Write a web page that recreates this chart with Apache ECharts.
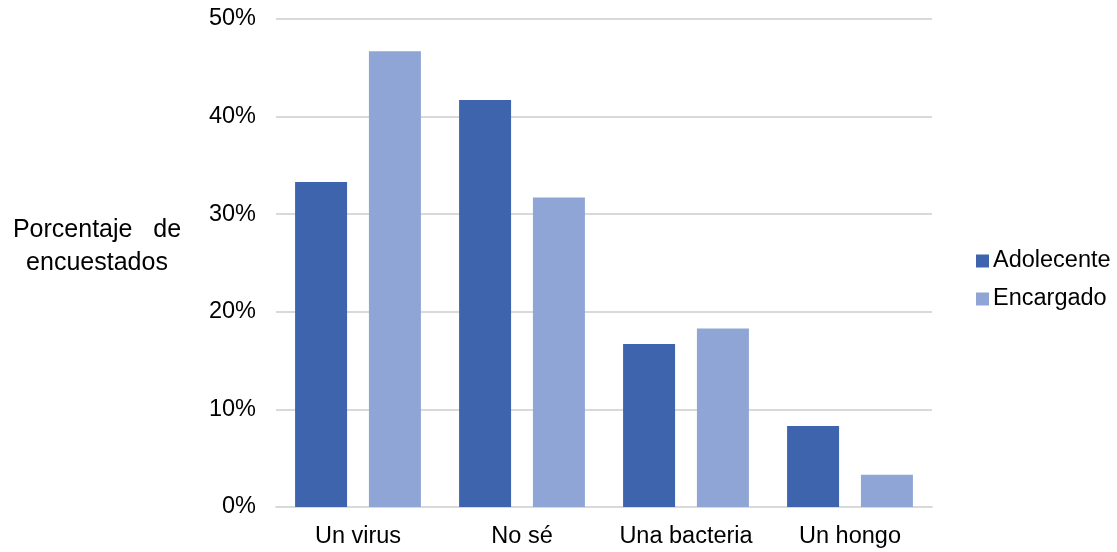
<!DOCTYPE html>
<html><head><meta charset="utf-8">
<script src="https://cdn.jsdelivr.net/npm/echarts@6/dist/echarts.min.js"></script>
<style>html,body{margin:0;padding:0;background:#fff}#c{width:1117px;height:552px}</style>
</head><body><div id="c"></div>
<script>
const categories = ['Un virus', 'No sé', 'Una bacteria', 'Un hongo'];
const adolecente = [33.3, 41.7, 16.7, 8.3];
const encargado = [46.7, 31.7, 18.3, 3.3];
const seriesNames = ['Adolecente', 'Encargado'];
const yAxisTitle = 'Porcentaje   de\nencuestados';

const font = 'Liberation Sans, Arial, sans-serif';
const fs = 23.5;
const chart = echarts.init(document.getElementById('c'));
chart.setOption({
  animation: false,
  textStyle: { fontFamily: font },
  grid: { left: 276, right: 185, top: 19, bottom: 45 },
  legend: {
    orient: 'vertical', left: 971, top: 244, itemWidth: 13, itemHeight: 13, itemGap: 14,
    icon: 'rect',
    textStyle: { fontSize: fs, color: '#000', fontFamily: font, padding: [0,0,0,-1] },
    data: seriesNames
  },
  graphic: [{
    type: 'text', x: 97, y: 214,
    style: { text: yAxisTitle, font: '25px ' + font, fill: '#000', align: 'center', lineHeight: 33 }
  }],
  xAxis: {
    type: 'category', data: categories,
    axisLine: { show: true, lineStyle: { color: '#d9d9d9', width: 2 } },
    axisTick: { show: false },
    axisLabel: { fontSize: fs, color: '#000', margin: 18, fontFamily: font, interval: 0 }
  },
  yAxis: {
    type: 'value', min: 0, max: 50, interval: 10,
    axisLine: { show: false }, axisTick: { show: false },
    splitLine: { lineStyle: { color: '#d9d9d9', width: 2 } },
    axisLabel: { fontSize: fs, color: '#000', margin: 20, formatter: '{value}%', fontFamily: font }
  },
  series: [
    { name: seriesNames[0], type: 'bar', data: adolecente, barWidth: 52, barGap: '42%', itemStyle: { color: '#3d64ac' } },
    { name: seriesNames[1], type: 'bar', data: encargado, barWidth: 52, itemStyle: { color: '#8fa5d6' } }
  ]
});
</script></body></html>
